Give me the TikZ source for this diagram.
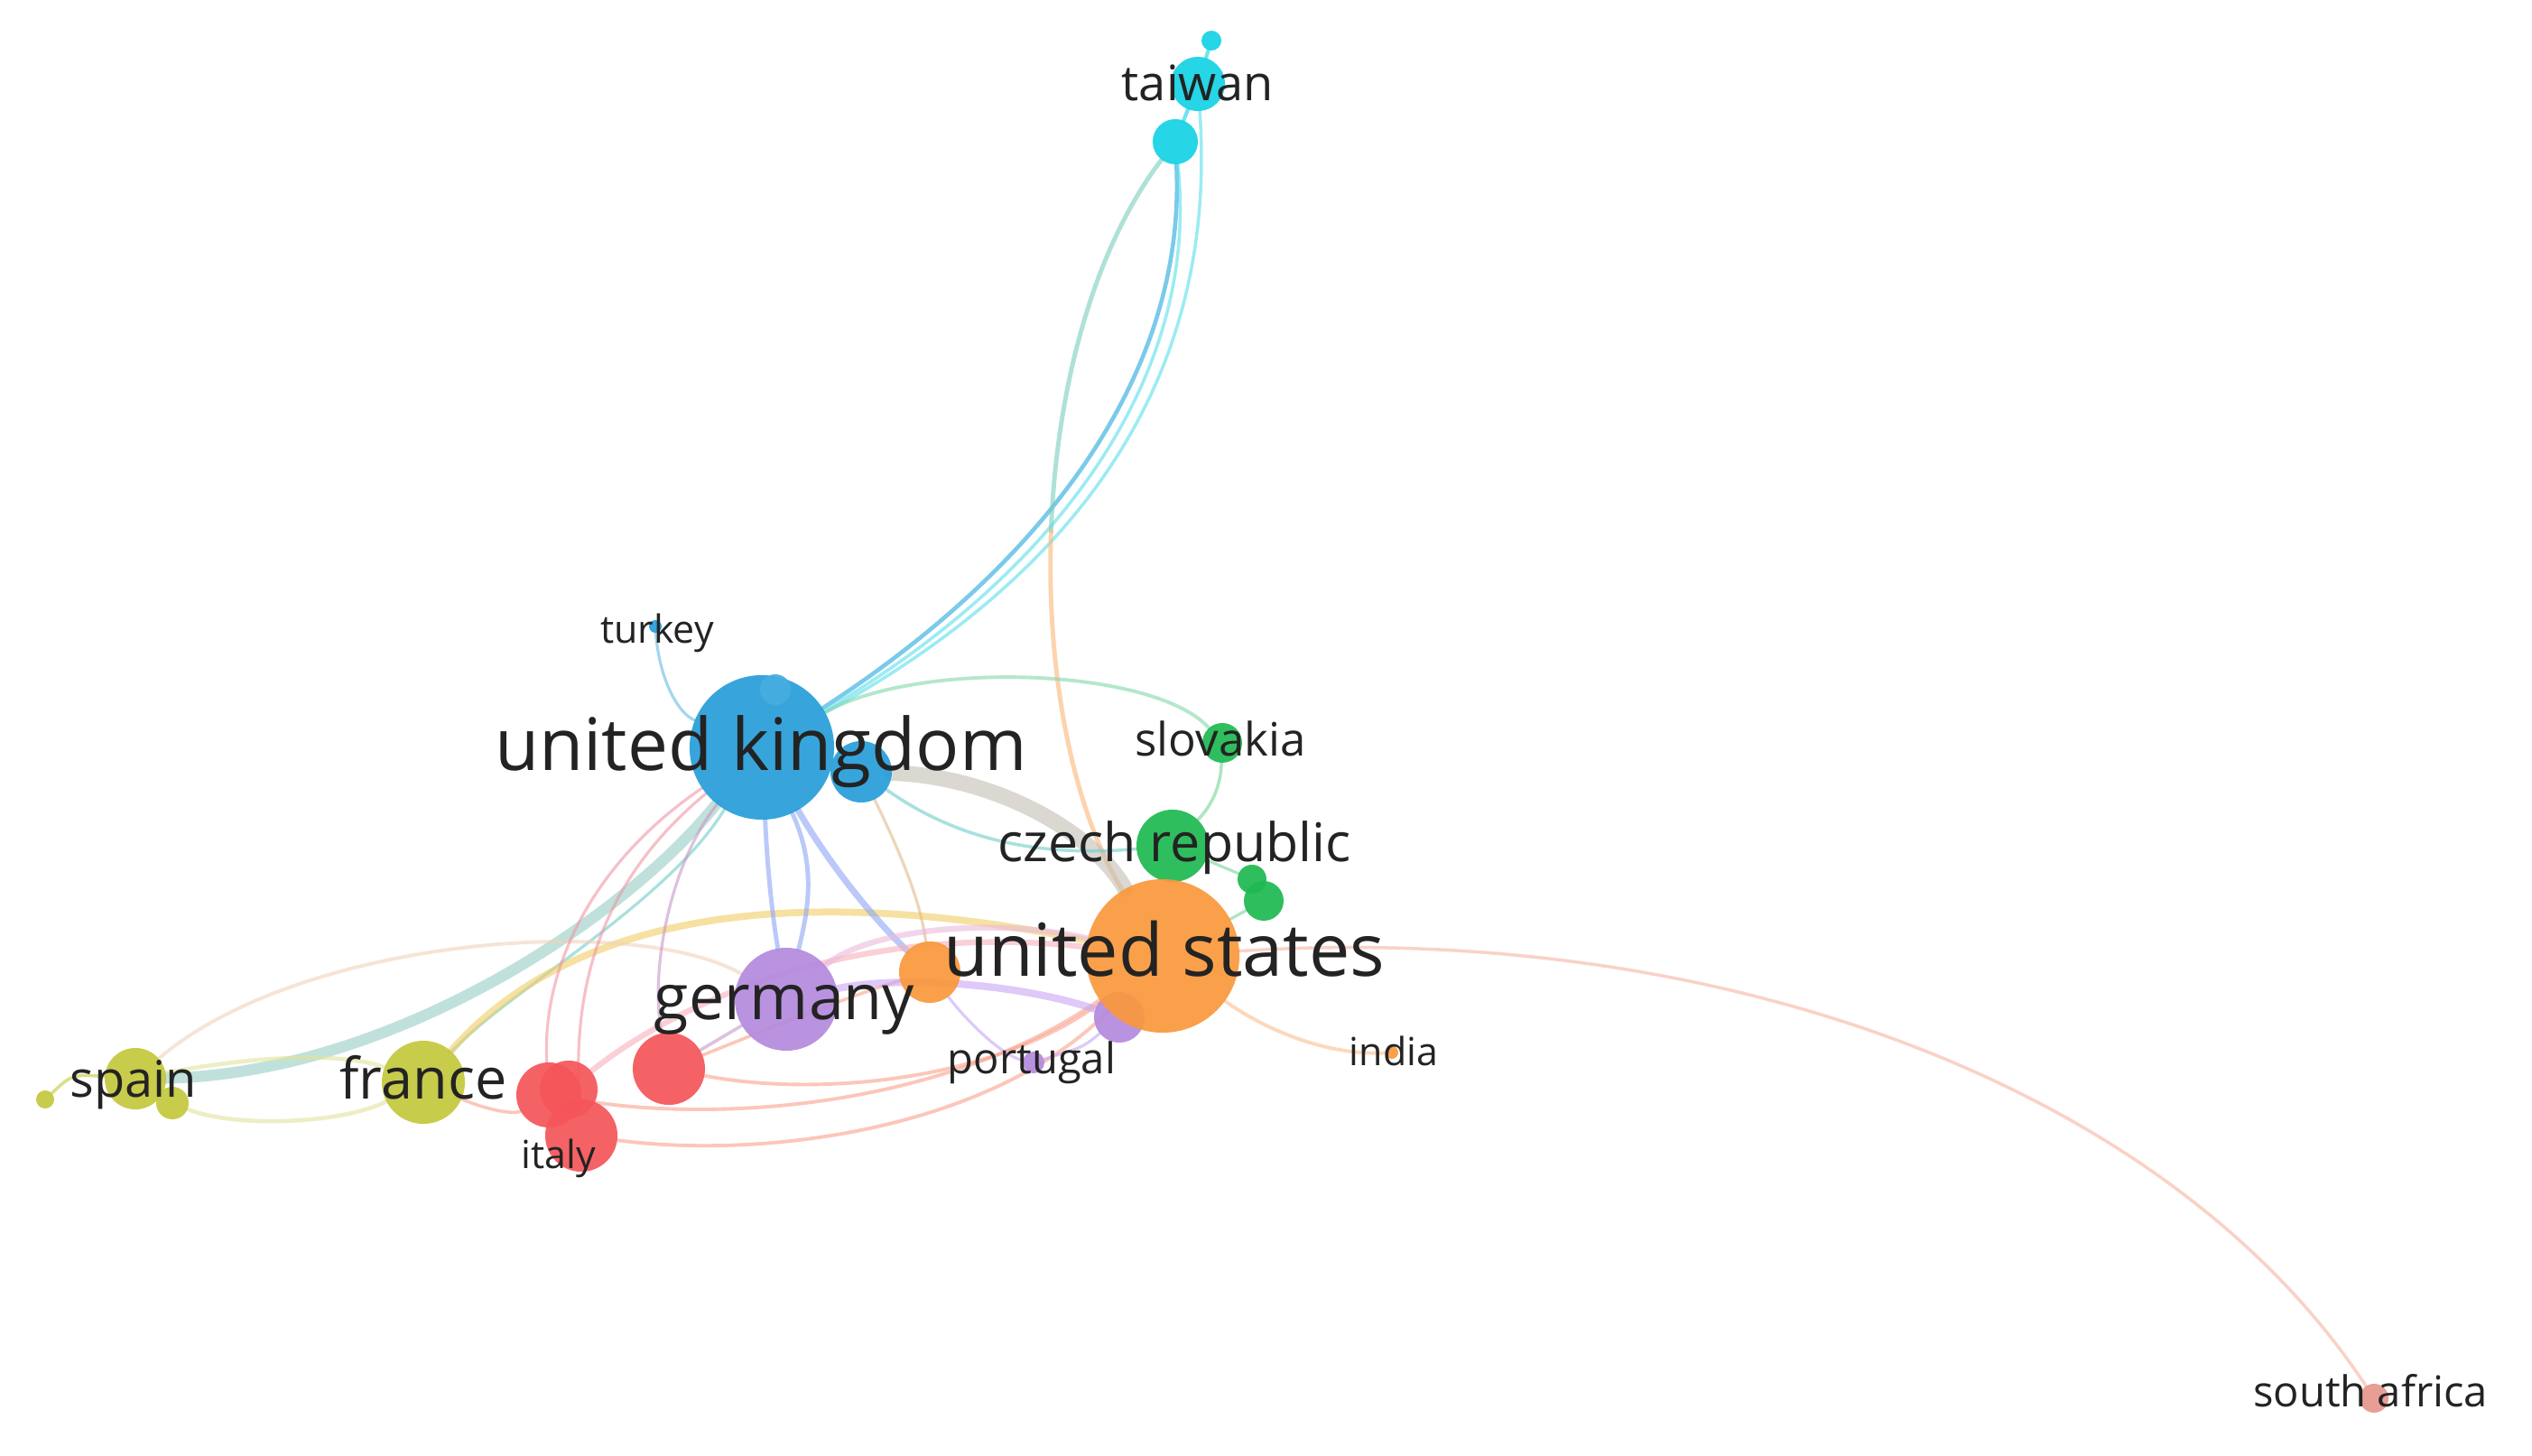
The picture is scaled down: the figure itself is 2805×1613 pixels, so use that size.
\documentclass[tikz,border=0pt]{standalone}
\usepackage{fontspec}
\setmainfont{Open Sans}
\pgfdeclarelayer{edges}
\pgfsetlayers{edges,main}
\definecolor{ukblue}{RGB}{38,158,218}
\definecolor{twcyan}{RGB}{20,210,228}
\definecolor{usorange}{RGB}{250,152,60}
\definecolor{deviolet}{RGB}{180,138,222}
\definecolor{czgreen}{RGB}{30,185,80}
\definecolor{frolive}{RGB}{196,200,60}
\definecolor{itred}{RGB}{245,85,90}
\definecolor{sapink}{RGB}{230,150,140}
\definecolor{lbltext}{RGB}{35,35,35}
\definecolor{eteal}{RGB}{110,205,200}
\definecolor{eteal2}{RGB}{150,205,195}
\definecolor{egreen}{RGB}{130,215,170}
\definecolor{egray}{RGB}{195,190,180}
\definecolor{eyellow}{RGB}{240,205,100}
\definecolor{epeach}{RGB}{240,210,185}
\definecolor{epink}{RGB}{240,150,165}
\definecolor{emauve}{RGB}{200,150,200}
\definecolor{eperi}{RGB}{140,165,245}
\definecolor{etan}{RGB}{225,185,140}
\definecolor{esalmon}{RGB}{250,160,140}
\definecolor{epink2}{RGB}{248,175,185}
\definecolor{elilac}{RGB}{200,165,245}
\definecolor{epink3}{RGB}{235,185,220}
\definecolor{elorange}{RGB}{252,190,140}
\definecolor{esa}{RGB}{245,180,160}
\definecolor{etwus}{RGB}{120,205,190}
\begin{document}
\begin{tikzpicture}[x=0.01cm,y=-0.01cm,
  dot/.style={circle,inner sep=0pt,outer sep=0pt,fill opacity=0.92},
  lbl/.style={inner sep=0pt,text=lbltext,text height=0.14em,text depth=0pt,anchor=center},
  edge/.style={line cap=round,draw opacity=0.6}]
\useasboundingbox (0,0) rectangle (2805,1613);
% nodes
\node[dot,fill=twcyan,minimum size=0.22cm] (tw1) at (1342,45) {};
\node[dot,fill=twcyan,minimum size=0.6cm] (tw) at (1327,93) {};
\node[dot,fill=twcyan,minimum size=0.5cm] (tw2) at (1302,157) {};
\node[dot,fill=ukblue,minimum size=0.14cm] (tr) at (726,694) {};
\node[dot,fill=ukblue,minimum size=1.6cm] (uk) at (844,828) {};
\node[dot,fill=ukblue!85!white,minimum size=0.34cm] (ukb) at (859,764) {};
\node[dot,fill=ukblue,minimum size=0.68cm] (uks) at (954,855) {};
\node[dot,fill=czgreen,minimum size=0.44cm] (sk) at (1354,823) {};
\node[dot,fill=czgreen,minimum size=0.8cm] (cz) at (1299,937) {};
\node[dot,fill=czgreen,minimum size=0.32cm] (g1) at (1387,974) {};
\node[dot,fill=czgreen,minimum size=0.44cm] (g2) at (1400,998) {};
\node[dot,fill=deviolet,minimum size=0.56cm] (pu) at (1240,1127) {};
\node[dot,fill=usorange,minimum size=1.7cm] (us) at (1288,1059) {};
\node[dot,fill=usorange,minimum size=0.68cm] (os) at (1030,1077) {};
\node[dot,fill=deviolet,minimum size=1.14cm] (de) at (871,1107) {};
\node[dot,fill=deviolet,minimum size=0.24cm] (pt) at (1145,1177) {};
\node[dot,fill=usorange,minimum size=0.14cm] (in) at (1542,1166) {};
\node[dot,fill=itred,minimum size=0.8cm] (r1) at (741,1184) {};
\node[dot,fill=itred,minimum size=0.72cm] (r2) at (608,1213) {};
\node[dot,fill=itred,minimum size=0.64cm] (r3) at (630,1207) {};
\node[dot,fill=itred,minimum size=0.8cm] (it) at (644,1258) {};
\node[dot,fill=frolive,minimum size=0.92cm] (fr) at (469,1199) {};
\node[dot,fill=frolive,minimum size=0.68cm] (es) at (150,1195) {};
\node[dot,fill=frolive,minimum size=0.36cm] (es2) at (191,1222) {};
\node[dot,fill=frolive,minimum size=0.2cm] (es3) at (50,1218) {};
\node[dot,fill=sapink,minimum size=0.32cm] (za) at (2630,1549) {};
% labels
\node[lbl,font=\fontsize{15.4pt}{16pt}\selectfont] (twl) at (1327,109) {taiwan};
\node[lbl,font=\fontsize{12.2pt}{13pt}\selectfont] (trl) at (728,710) {turkey};
\node[lbl,font=\fontsize{22.8pt}{24pt}\selectfont] (ukl) at (843,851) {united kingdom};
\node[lbl,font=\fontsize{14.5pt}{15pt}\selectfont] (skl) at (1352,835) {slovakia};
\node[lbl,font=\fontsize{16.8pt}{17pt}\selectfont] (czl) at (1301,952) {czech republic};
\node[lbl,font=\fontsize{23pt}{24pt}\selectfont] (usl) at (1290,1079) {united states};
\node[lbl,font=\fontsize{19.9pt}{20pt}\selectfont] (del) at (869,1127) {germany};
\node[lbl,font=\fontsize{13.4pt}{14pt}\selectfont] (ptl) at (1143,1187) {portugal};
\node[lbl,font=\fontsize{12.2pt}{13pt}\selectfont] (inl) at (1544,1178) {india};
\node[lbl,font=\fontsize{12.2pt}{13pt}\selectfont] (itl) at (619,1292) {italy};
\node[lbl,font=\fontsize{17.9pt}{18pt}\selectfont] (frl) at (469,1215) {france};
\node[lbl,font=\fontsize{15.9pt}{16pt}\selectfont] (esl) at (148,1213) {spain};
\node[lbl,font=\fontsize{13.4pt}{14pt}\selectfont] (zal) at (2626,1556) {south africa};
% edges
\begin{pgfonlayer}{edges}
\fill[white] (0,0) rectangle (2805,1613);
\coordinate (m1) at (1164.4,588.1);
\draw[edge,twcyan,line width=1.2pt] (tw1) -- (tw);
\draw[edge,twcyan,line width=1.2pt] (tw) -- (tw2);
\draw[edge,ukblue!80!twcyan,line width=1.3pt] (tw2) .. controls (1315,420) and (1150,630) .. (uk);
\draw[edge,twcyan!70!white,line width=1pt] (tw2) .. controls (1330,410) and (1180,630) .. (uk);
\draw[edge,twcyan!70!white,line width=1pt] (tw) .. controls (1350,420) and (1195,635) .. (uk);
\draw[edge,etwus,line width=1.4pt] (tw2) .. controls (1210,277.5) and (1170,433.75) .. (m1);
\draw[edge,usorange!70!white,line width=1.4pt] (m1) .. controls (1158.75,742.5) and (1187.5,895) .. (us);
\draw[edge,egreen,line width=1.1pt] (uk) .. controls (1020,730) and (1280,740) .. (sk);
\draw[edge,czgreen!60!white,line width=1pt] (sk) .. controls (1352,880) and (1335,900) .. (cz);
\draw[edge,egray,line width=5pt] (uks) .. controls (1100,860) and (1210,920) .. (us);
\draw[edge,eteal,line width=1pt] (uks) .. controls (1060,930) and (1150,950) .. (cz);
\draw[edge,ukblue!70!white,line width=0.9pt] (tr) .. controls (730,750) and (750,790) .. (uk);
\draw[edge,eteal2,line width=3.5pt] (uk) .. controls (690,1020) and (430,1190) .. (es);
\draw[edge,eteal,line width=0.9pt] (uk) .. controls (740,1000) and (560,1100) .. (fr);
\draw[edge,eyellow,line width=2.2pt] (fr) .. controls (600,1050) and (800,960) .. (us);
\draw[edge,frolive!50!white,line width=1.3pt] (es) .. controls (280,1170) and (380,1165) .. (fr);
\draw[edge,frolive!50!white,line width=1.3pt] (es2) .. controls (260,1250) and (380,1245) .. (fr);
\draw[edge,epeach,line width=1.1pt] (es) .. controls (330,1040) and (700,1010) .. (de);
\draw[edge,frolive,line width=1pt] (es3) .. controls (80,1190) .. (es);
\draw[edge,epink,line width=0.9pt] (uk) .. controls (650,960) and (600,1080) .. (r2);
\draw[edge,epink,line width=0.9pt] (uk) .. controls (660,980) and (635,1100) .. (it);
\draw[edge,emauve,line width=0.9pt] (uk) .. controls (740,960) and (720,1080) .. (r1);
\draw[edge,eperi,line width=1.4pt] (uk) .. controls (850,960) and (855,1010) .. (de);
\draw[edge,eperi,line width=1.4pt] (uk) .. controls (905,960) and (895,1010) .. (de);
\draw[edge,eperi,line width=2pt] (uk) .. controls (920,960) and (970,1020) .. (os);
\draw[edge,etan,line width=0.9pt] (uks) .. controls (1000,950) and (1020,1000) .. (os);
\draw[edge,esalmon,line width=1.1pt] (r1) .. controls (900,1215) and (1100,1200) .. (us);
\draw[edge,esalmon,line width=1.1pt] (it) .. controls (850,1285) and (1100,1250) .. (us);
\draw[edge,esalmon,line width=1.1pt] (r2) .. controls (800,1245) and (1050,1225) .. (us);
\draw[edge,epink2,line width=1.8pt] (r3) .. controls (750,1110) and (950,1020) .. (us);
\draw[edge,esalmon,line width=1pt] (r1) .. controls (850,1140) and (950,1100) .. (os);
\draw[edge,esalmon,line width=1pt] (fr) .. controls (540,1230) and (570,1235) .. (r2);
\draw[edge,emauve,line width=1pt] (r1) -- (de);
\draw[edge,elilac,line width=2.3pt] (de) .. controls (1000,1080) and (1130,1090) .. (pu);
\draw[edge,epink3,line width=1.8pt] (de) .. controls (960,1030) and (1100,1015) .. (us);
\draw[edge,elilac,line width=0.9pt] (os) .. controls (1070,1130) and (1110,1170) .. (pt);
\draw[edge,elilac,line width=0.9pt] (pu) .. controls (1200,1160) .. (pt);
\draw[edge,elorange,line width=1.1pt] (us) .. controls (1400,1140) and (1470,1170) .. (in);
\draw[edge,esa,line width=1pt] (us) .. controls (1900,1020) and (2400,1200) .. (za);
\draw[edge,czgreen!60!white,line width=0.9pt] (cz) -- (g1);
\draw[edge,czgreen!60!white,line width=0.9pt] (g2) -- (us);
\draw[edge,czgreen!60!white,line width=0.9pt] (cz) -- (us);
\end{pgfonlayer}
\end{tikzpicture}
\end{document}
